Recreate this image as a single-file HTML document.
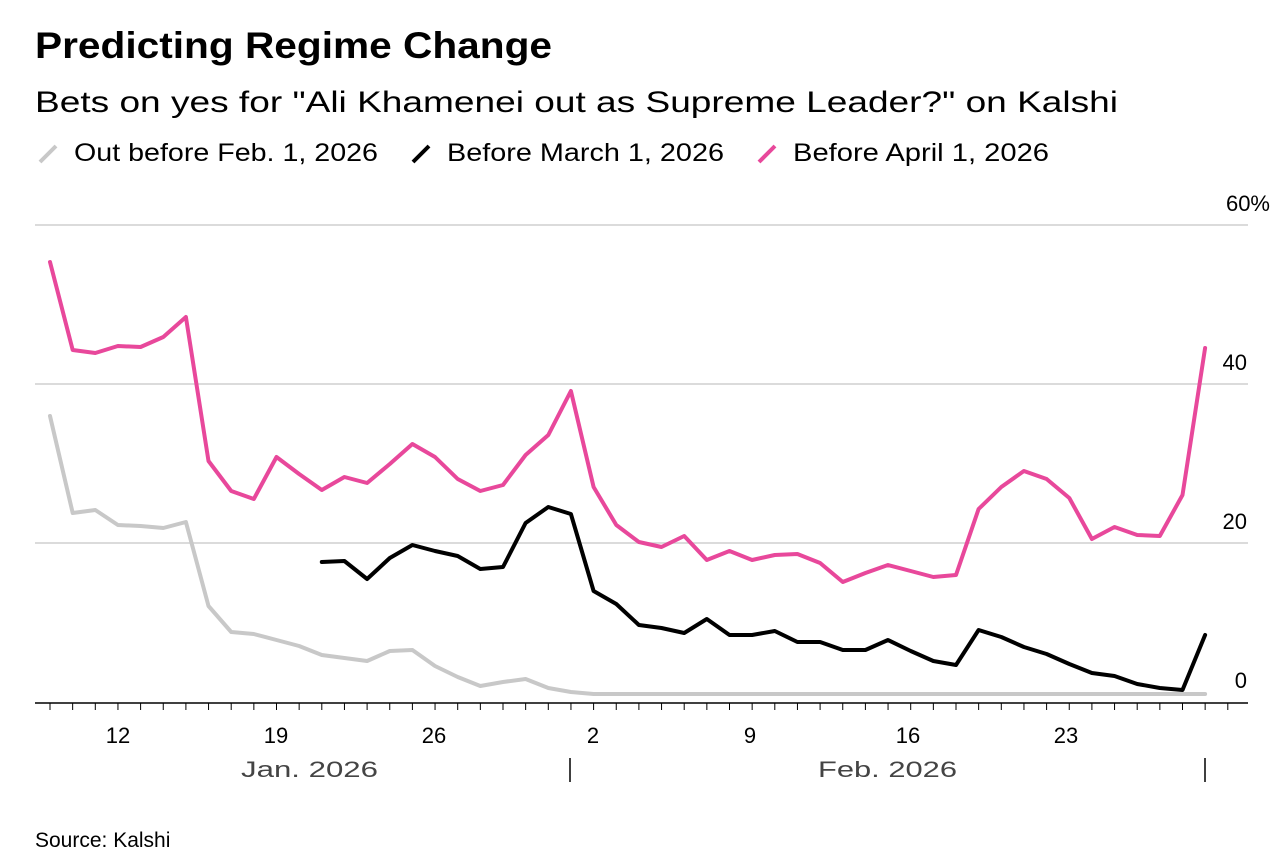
<!DOCTYPE html>
<html><head><meta charset="utf-8"><style>
body{margin:0;background:#fff;width:1280px;height:858px;overflow:hidden;font-family:"Liberation Sans",sans-serif;}
</style></head><body>
<svg width="1280" height="858" xmlns="http://www.w3.org/2000/svg" font-family="Liberation Sans, sans-serif">
<text x="35" y="58" font-size="37" font-weight="bold" fill="#000" textLength="517" lengthAdjust="spacingAndGlyphs">Predicting Regime Change</text>
<text x="35" y="112" font-size="30" fill="#000" textLength="1083" lengthAdjust="spacingAndGlyphs">Bets on yes for "Ali Khamenei out as Supreme Leader?" on Kalshi</text>
<g font-size="25" fill="#000">
<line x1="40" y1="162" x2="56" y2="146" stroke="#c8c8c8" stroke-width="4"/><text x="74" y="161" textLength="304" lengthAdjust="spacingAndGlyphs">Out before Feb. 1, 2026</text>
<line x1="413" y1="162" x2="429" y2="146" stroke="#000" stroke-width="4"/><text x="447" y="161" textLength="277" lengthAdjust="spacingAndGlyphs">Before March 1, 2026</text>
<line x1="759" y1="162" x2="775" y2="146" stroke="#e8489b" stroke-width="4"/><text x="793" y="161" textLength="256" lengthAdjust="spacingAndGlyphs">Before April 1, 2026</text>
</g>
<g stroke="#cfcfcf" stroke-width="1.5">
<line x1="35" y1="225" x2="1248" y2="225"/><line x1="35" y1="384" x2="1248" y2="384"/><line x1="35" y1="543" x2="1248" y2="543"/>
</g>
<g font-size="22" fill="#000" text-anchor="end">
<text x="1270" y="211">60%</text><text x="1247" y="370">40</text><text x="1247" y="529">20</text><text x="1247" y="688">0</text>
</g>
<line x1="35" y1="703" x2="1248" y2="703" stroke="#000" stroke-width="1.5"/>
<g id="ticks" stroke="#000" stroke-width="1"></g>
<g font-size="22" fill="#000" text-anchor="middle">
<text x="118" y="743">12</text><text x="276" y="743">19</text><text x="434" y="743">26</text><text x="593" y="743">2</text><text x="750" y="743">9</text><text x="908" y="743">16</text><text x="1066" y="743">23</text>
</g>
<g font-size="22" fill="#444">
<text x="241" y="777" textLength="137" lengthAdjust="spacingAndGlyphs">Jan. 2026</text><text x="818" y="777" textLength="139" lengthAdjust="spacingAndGlyphs">Feb. 2026</text>
</g>
<line x1="570" y1="758" x2="570" y2="782" stroke="#000" stroke-width="1.5"/>
<line x1="1205" y1="758" x2="1205" y2="782" stroke="#000" stroke-width="1.5"/>
<text x="35" y="847" font-size="21" fill="#000">Source: Kalshi</text>
<g fill="none" stroke-width="4" stroke-linejoin="round" stroke-linecap="round">
<polyline id="g" stroke="#c8c8c8"/>
<polyline id="b" stroke="#000"/>
<polyline id="p" stroke="#e8489b"/>
</g>
</svg>
<script>
var dx=22.65,x0=50;
function pts(arr,start){return arr.map(function(y,i){return (x0+(start+i)*dx).toFixed(1)+","+y}).join(" ");}
var pink=[262,350,353,346,347,337,317,461,491,499,457,474,490,477,483,464,444,457,479,491,485,455,435,391,487,525,542,547,536,560,551,560,555,554,563,582,573,565,571,577,575,509,487,471,479,498,539,527,535,536,495,348];
var blk=[562,561,579,558,545,551,556,569,567,523,507,514,591,604,625,628,633,619,635,635,631,642,642,650,650,640,651,661,665,630,637,647,654,664,673,676,684,688,690,635];
var gr=[416,513,510,525,526,528,522,606,632,634,640,646,655,658,661,651,650,666,677,686,682,679,688,692,694];
while(gr.length<52)gr.push(694);
document.getElementById('p').setAttribute('points',pts(pink,0));
document.getElementById('b').setAttribute('points',pts(blk,12));
document.getElementById('g').setAttribute('points',pts(gr,0));
var t='';for(var i=-1;i<53;i++){var x=x0+i*dx;if(x<36||x>1247)continue;t+='<line x1="'+x+'" y1="703" x2="'+x+'" y2="710"/>';}
document.getElementById('ticks').innerHTML=t;
</script>
</body></html>
